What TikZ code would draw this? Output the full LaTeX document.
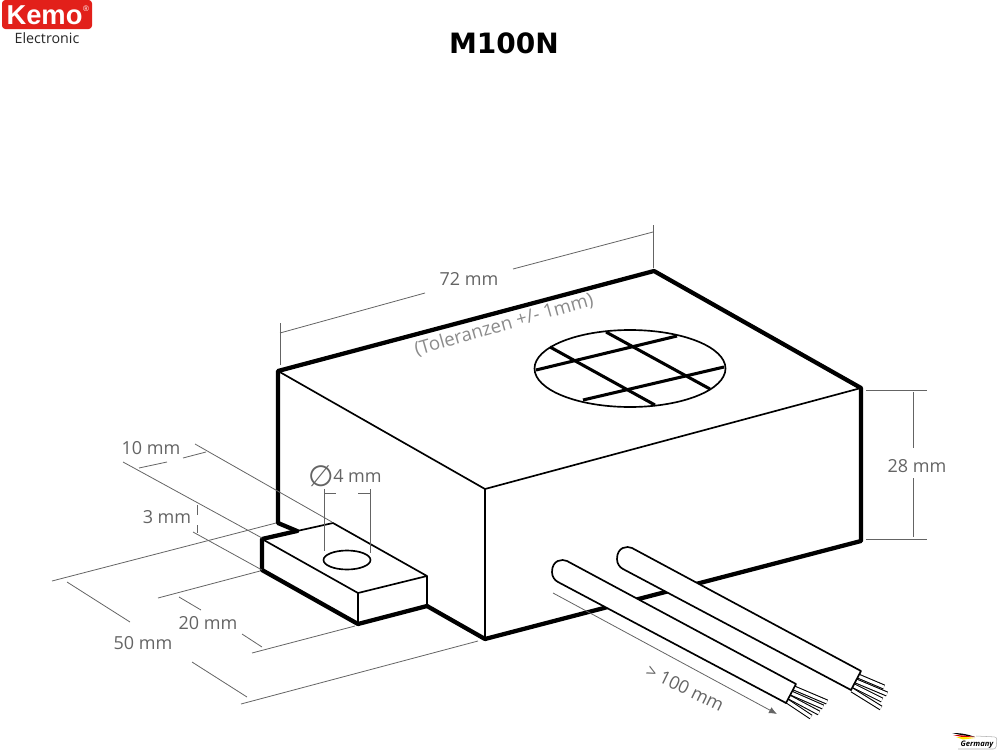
\documentclass[tikz,border=0pt]{standalone}
\usepackage{fontspec}
\setmainfont{Open Sans}
\newfontfamily\symfont{DejaVu Sans}
\newfontfamily\logofont{Liberation Sans}
\usetikzlibrary{arrows, arrows.meta}
\definecolor{kemored}{RGB}{226,32,26}
\definecolor{dimgrey}{RGB}{100,100,100}
\tikzset{
	heavy/.style={line width=3.2pt, line join=round, line cap=round},
	edgeline/.style={line width=1.25pt, line join=round},
	grid/.style={line width=2.3pt},
	dimline/.style={dimgrey, line width=0.6pt},
	dimtext/.style={text=dimgrey, font=\fontsize{13.5}{15}\selectfont, inner sep=0pt},
	wire/.style={fill=white, draw=black, line width=1.25pt, line join=round},
	strand/.style={draw=black, double=white, double distance=2.2pt, line width=0.8pt},
}
\begin{document}
\begin{tikzpicture}[x=0.75pt, y=-0.75pt]
	\useasboundingbox (0, 0) rectangle (1000, 750);

	% box
	\coordinate (backleft) at (278, 371);
	\coordinate (backright) at (654, 271);
	\coordinate (right) at (861, 388);
	\coordinate (front) at (485, 489);
	\coordinate (frontlow) at (485, 639);
	\coordinate (rightlow) at (861, 541);
	\coordinate (leftlow) at (278, 523);
	\coordinate (tabjoin) at (297, 531);
	\draw[edgeline] (backleft) -- (front) -- (right);
	\draw[edgeline] (front) -- (frontlow);
	\draw[heavy] (tabjoin) -- (leftlow) -- (backleft) -- (backright) -- (right) -- (rightlow) -- (frontlow) -- (427, 606);

	% speaker grille
	\draw[edgeline] (630, 368.5) ellipse (95.5 and 38.5);
	\draw[grid] (550, 347) -- (655, 405);
	\draw[grid] (606, 332) -- (710, 389);
	\draw[grid] (536, 370) -- (677, 336);
	\draw[grid] (583, 400) -- (724, 367);

	% mounting tab
	\coordinate (tabback) at (333, 523);
	\coordinate (tableft) at (262, 539);
	\coordinate (tableftlow) at (262, 570);
	\coordinate (tabfront) at (358, 593);
	\coordinate (tabfrontlow) at (358, 624);
	\coordinate (tabright) at (427, 576);
	\coordinate (tabrightlow) at (427, 606);
	\draw[edgeline] (tableft) -- (tabfront) -- (tabright) -- (tabback) -- (tabjoin);
	\draw[edgeline] (tabfront) -- (tabfrontlow);
	\draw[edgeline] (tabright) -- (tabrightlow);
	\draw[heavy] (tabjoin) -- (tableft) -- (tableftlow) -- (tabfrontlow) -- (tabrightlow);
	\draw[edgeline] (347, 560) ellipse (23.5 and 9.5);

	% dimension lines
	\draw[dimline] (280, 365) -- (280, 323);
	\draw[dimline] (280, 333) -- (425, 293);
	\draw[dimline] (513, 269) -- (653, 232);
	\draw[dimline] (653, 225) -- (653, 268);
	\draw[dimline] (866, 390) -- (927, 390);
	\draw[dimline] (866, 539) -- (927, 539);
	\draw[dimline] (913, 392) -- (913, 448);
	\draw[dimline] (913, 478) -- (913, 537);
	\draw[dimline] (195, 444) -- (332, 522);
	\draw[dimline] (123, 462) -- (262, 538);
	\draw[dimline] (139, 468) -- (167, 462);
	\draw[dimline] (183, 458) -- (206, 452);
	\draw[dimline] (197, 505) -- (197, 515);
	\draw[dimline] (197, 525) -- (197, 533);
	\draw[dimline] (193, 532) -- (262, 570);
	\draw[dimline] (324, 489) -- (324, 551);
	\draw[dimline] (370, 489) -- (370, 553);
	\draw[dimline] (324, 493) -- (336, 493);
	\draw[dimline] (358, 493) -- (370, 493);
	\draw[dimline] (52, 581) -- (276, 523);
	\draw[dimline] (158, 598) -- (260, 571);
	\draw[dimline] (67, 582) -- (130, 622);
	\draw[dimline] (192, 662) -- (247, 697);
	\draw[dimline] (179, 597) -- (201, 610);
	\draw[dimline] (242, 634) -- (262, 647);
	\draw[dimline] (252, 653) -- (355, 626);
	\draw[dimline] (241, 704) -- (478, 641);

	% wires
	\foreach \fx/\fy/\tx/\ty in {794/688/827/702, 791/693/823/707, 789/697/819/713, 787/701/811/717,
		858/676/884/687, 856/681/887/694, 854/686/882/700, 852/690/881/708} {
		\draw[strand] (\fx, \fy) -- (\tx, \ty);
	}
	\foreach \dx/\dy in {0/0, 65/-13} {
		\begin{scope}[shift={(\dx, \dy)}]
			\draw[wire] (796, 684) -- (567, 561)
				.. controls (562, 558.5) and (552, 560) .. (552, 572)
				.. controls (552, 577) and (555, 580.5) .. (558, 582)
				-- (786, 703) -- cycle;
		\end{scope}
	}
	\draw[dimline, -{Latex[length=6pt, width=5pt]}] (553, 593) -- (777, 714);

	% labels
	\node[font=\fontsize{21}{23}\selectfont\symfont\bfseries, inner sep=0pt] (title) at (504, 43) {M100N};
	\node[dimtext] (len) at (469, 279) {72 mm};
	\node[dimtext, text=dimgrey!75, font=\fontsize{14}{15}\selectfont, rotate=16] (tol) at (504, 325) {(Toleranzen +/- 1mm)};
	\node[dimtext] (height) at (917, 466) {28 mm};
	\node[dimtext] (ear) at (151, 448) {10 mm};
	\node[dimtext] (thick) at (167, 517) {3 mm};
	\node[dimtext, font=\fontsize{22}{23}\selectfont\symfont] (dia) at (321, 476) {∅};
	\node[dimtext, right=0pt] (hole) at (333, 476) {4 mm};
	\node[dimtext] (earlen) at (208, 623) {20 mm};
	\node[dimtext] (depth) at (143, 643) {50 mm};
	\node[dimtext, rotate=-26] (cable) at (685, 688) {> 100 mm};

	% logo
	\node[fill=kemored, rounded corners=2.5pt, minimum width=67.5pt, minimum height=21.75pt, inner sep=0pt] (badge) at (47, 14.5) {};
	\node[text=white, font=\fontsize{20.5}{21}\selectfont\logofont\bfseries, inner sep=0pt] (kemo) at (44.5, 15) {Kemo};
	\node[text=white, font=\fontsize{6}{6}\selectfont\logofont, inner sep=0pt] (reg) at (86, 9) {®};
	\node[text=black!85, font=\fontsize{10.7}{11}\selectfont, inner sep=0pt] (elec) at (47, 38) {Electronic};

	% made in
	\fill[black] (952, 733) .. controls (960, 733) and (968, 734) .. (975, 737) -- (961, 735) -- cycle;
	\fill[red!85!black] (953, 735) .. controls (960, 735) and (968, 736) .. (975, 737) -- (962, 737) -- cycle;
	\fill[yellow!90!orange] (956, 737) .. controls (962, 737) and (968, 737) .. (975, 738) -- (963, 739.5) -- cycle;
	\node[font=\fontsize{5.7}{6}\selectfont\bfseries\itshape, inner sep=0pt] (germany) at (977, 744.5) {Germany};
	\draw[dimgrey!50, line width=0.4pt, rounded corners=2pt] (976, 736) -- (997, 737) -- (996, 749) -- (958, 749);
\end{tikzpicture}
\end{document}
